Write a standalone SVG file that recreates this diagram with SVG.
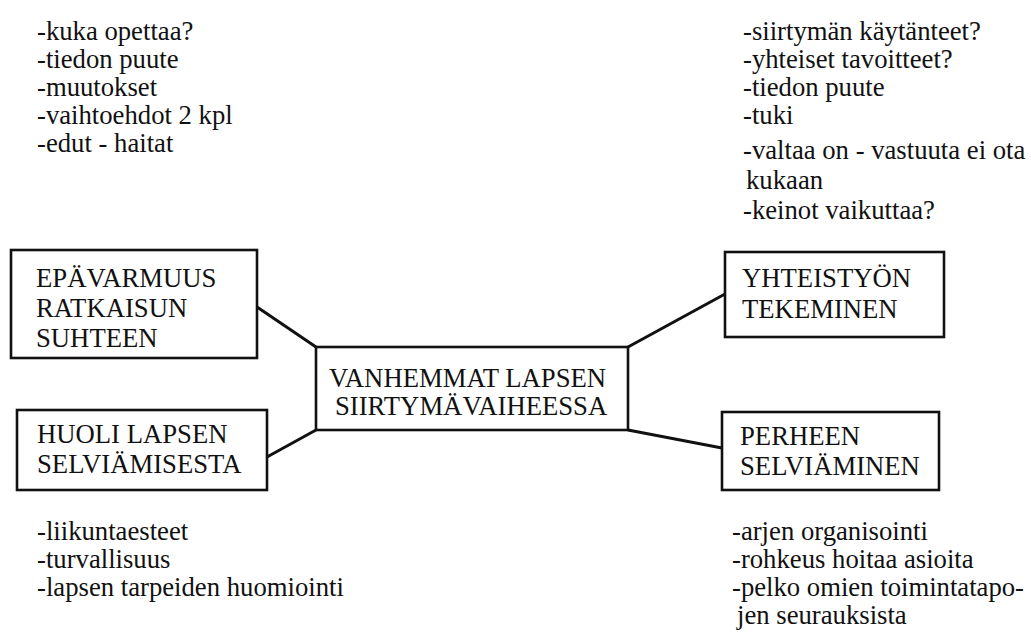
<svg xmlns="http://www.w3.org/2000/svg" width="1031" height="637" viewBox="0 0 1031 637" font-family="'Liberation Serif', 'Times New Roman', serif">
  <style>
    text { font-family: 'Liberation Serif', 'Times New Roman', serif; font-size: 26.7px; fill: #111; }
    .box { fill: #fff; stroke: #111; stroke-width: 2.6; }
    .link { stroke: #111; stroke-width: 3; fill: none; }
  </style>
  <rect width="1031" height="637" fill="#fff"/>

  <!-- connectors from the central node -->
  <g id="connectors">
    <line class="link" x1="257" y1="307" x2="316" y2="347"/>
    <line class="link" x1="267" y1="457" x2="316" y2="430"/>
    <line class="link" x1="628" y1="347" x2="725" y2="294"/>
    <line class="link" x1="628" y1="430" x2="722" y2="448"/>
  </g>

  <g id="node-center">
    <rect class="box" x="316" y="347" width="312" height="83"/>
    <text x="329" y="387">VANHEMMAT LAPSEN</text>
    <text x="335" y="415">SIIRTYMÄVAIHEESSA</text>
  </g>

  <g id="node-epavarmuus">
    <rect class="box" x="11" y="250" width="246" height="108"/>
    <text x="36" y="287">EPÄVARMUUS</text>
    <text x="36" y="317">RATKAISUN</text>
    <text x="36" y="347">SUHTEEN</text>
  </g>

  <g id="node-huoli">
    <rect class="box" x="17" y="410" width="250" height="80"/>
    <text x="37" y="443">HUOLI LAPSEN</text>
    <text x="37" y="473">SELVIÄMISESTA</text>
  </g>

  <g id="node-yhteistyo">
    <rect class="box" x="725" y="252" width="219" height="85"/>
    <text x="742" y="287">YHTEISTYÖN</text>
    <text x="742" y="318">TEKEMINEN</text>
  </g>

  <g id="node-perhe">
    <rect class="box" x="722" y="412" width="217" height="78"/>
    <text x="740" y="445">PERHEEN</text>
    <text x="740" y="475">SELVIÄMINEN</text>
  </g>

  <g id="notes-epavarmuus">
    <text x="37" y="40">-kuka opettaa?</text>
    <text x="37" y="68">-tiedon puute</text>
    <text x="37" y="96">-muutokset</text>
    <text x="37" y="124">-vaihtoehdot 2 kpl</text>
    <text x="37" y="152">-edut - haitat</text>
  </g>

  <g id="notes-yhteistyo">
    <text x="743" y="40">-siirtymän käytänteet?</text>
    <text x="743" y="68">-yhteiset tavoitteet?</text>
    <text x="743" y="96">-tiedon puute</text>
    <text x="743" y="124">-tuki</text>
    <text x="743" y="159">-valtaa on - vastuuta ei ota</text>
    <text x="746" y="189">kukaan</text>
    <text x="743" y="219">-keinot vaikuttaa?</text>
  </g>

  <g id="notes-huoli">
    <text x="37" y="540">-liikuntaesteet</text>
    <text x="37" y="568">-turvallisuus</text>
    <text x="37" y="596">-lapsen tarpeiden huomiointi</text>
  </g>

  <g id="notes-perhe">
    <text x="732" y="540">-arjen organisointi</text>
    <text x="732" y="568">-rohkeus hoitaa asioita</text>
    <text x="732" y="596">-pelko omien toimintatapo-</text>
    <text x="737" y="624">jen seurauksista</text>
  </g>
</svg>
